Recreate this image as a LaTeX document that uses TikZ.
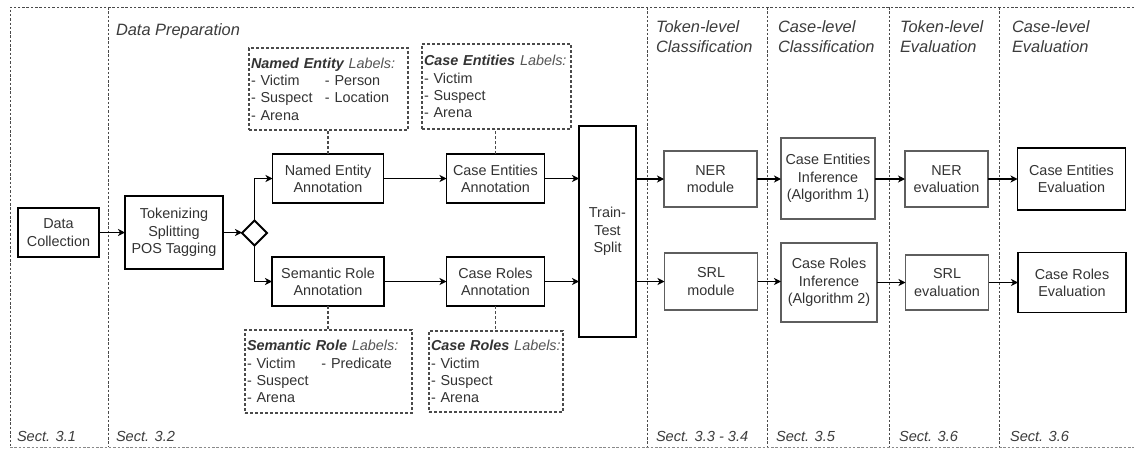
\documentclass[tikz,border=0pt]{standalone}
\usepackage{fontspec}
\setmainfont{Liberation Sans}
\usetikzlibrary{arrows.meta,shapes.geometric}

\definecolor{txt}{HTML}{333333}
\definecolor{hdr}{HTML}{3C3C3C}
\definecolor{lbl}{HTML}{555555}
\definecolor{frm}{HTML}{4A4A4A}
\definecolor{frmlight}{HTML}{8A8A8A}
\definecolor{gbox}{HTML}{5E5E5E}

\newcommand\boxfont{\fontsize{14.4}{17.3}\selectfont}
\newcommand\hdrfont{\fontsize{16.4}{19.5}\selectfont\itshape}
\newcommand\sectfont{\fontsize{14.6}{17.3}\selectfont\itshape}

\begin{document}
\begin{tikzpicture}[x=1pt,y=-1pt,
  every node/.style={inner sep=0pt, outer sep=0pt},
  procbox/.style={draw=black, line width=1.2pt, text=txt, align=center, font=\boxfont},
  greybox/.style={procbox, draw=gbox, line width=1.5pt},
  lblbox/.style={draw=frm, line width=1.2pt, dash pattern=on 3pt off 2pt,
    text=txt, align=left, font=\boxfont, inner xsep=2pt, anchor=north west},
  gate/.style={diamond, draw=black, line width=2pt, minimum width=25pt, minimum height=25pt},
  flow/.style={-{Stealth[length=7pt,width=7pt,inset=2pt]}, line width=1.2pt, black},
  tie/.style={line width=1.2pt, draw=frm, dash pattern=on 3pt off 2pt},
  lane/.style={line width=1pt, draw=frm, dash pattern=on 2.5pt off 1.8pt},
  colhead/.style={text=hdr, font=\hdrfont, align=left},
  secttag/.style={text=hdr, font=\sectfont, anchor=base west}
]
\useasboundingbox (0,0) rectangle (1134,448);
\fill[white] (0,0) rectangle (1134,448);

% outer frame and column separators
\draw[lane] (1134,7) -- (10,7) -- (10,447);
\draw[lane, draw=frmlight] (10,447) -- (1134,447);
\foreach \xx in {108,647,767,889,999}
  \draw[lane] (\xx,7) -- (\xx,447);

% column headings
\node[colhead, anchor=base west] (hprep) at (116,35) {Data Preparation};
\node[colhead, anchor=west] (htokc) at (656,36.4) {Token-level\\Classification};
\node[colhead, anchor=west] (hcasec) at (778,36.4) {Case-level\\Classification};
\node[colhead, anchor=west] (htoke) at (900,36.4) {Token-level\\Evaluation};
\node[colhead, anchor=west] (hcasee) at (1012,36.4) {Case-level\\Evaluation};

% section references
\node[secttag] (s1) at (17,441) {Sect. 3.1};
\node[secttag] (s2) at (116,441) {Sect. 3.2};
\node[secttag] (s3) at (656,441) {Sect. 3.3 - 3.4};
\node[secttag] (s4) at (776,441) {Sect. 3.5};
\node[secttag] (s5) at (899,441) {Sect. 3.6};
\node[secttag] (s6) at (1010,441) {Sect. 3.6};

% process steps
\node[procbox, minimum width=81pt, minimum height=49pt] (dc) at (58.5,232.5) {Data\\Collection};
\node[procbox, minimum width=98pt, minimum height=73pt] (tok) at (174,232.5) {Tokenizing\\Splitting\\POS Tagging};
\node[gate] (gw) at (254.5,233) {};
\node[procbox, minimum width=111pt, minimum height=49pt] (nea) at (328,178.5) {Named Entity\\Annotation};
\node[procbox, minimum width=112pt, minimum height=49pt] (sra) at (328,281.5) {Semantic Role\\Annotation};
\node[procbox, minimum width=98pt, minimum height=49pt] (cea) at (495.5,178.5) {Case Entities\\Annotation};
\node[procbox, minimum width=98pt, minimum height=49pt] (cra) at (495.5,281.5) {Case Roles\\Annotation};
\node[procbox, minimum width=57pt, minimum height=211pt] (tts) at (607.5,231.5) {Train-\\Test\\Split};
\node[greybox, minimum width=93pt, minimum height=56pt] (ner) at (710.5,179) {NER\\module};
\node[greybox, minimum width=93pt, minimum height=57pt] (srl) at (711,281.5) {SRL\\module};
\node[greybox, minimum width=94pt, minimum height=81pt] (cei) at (828,178.5) {Case Entities\\Inference\\(Algorithm 1)};
\node[greybox, minimum width=96pt, minimum height=79pt] (cri) at (829,282.5) {Case Roles\\Inference\\(Algorithm 2)};
\node[greybox, minimum width=83pt, minimum height=56pt] (nerev) at (946.5,179) {NER\\evaluation};
\node[greybox, minimum width=83pt, minimum height=55pt] (srlev) at (947,282.5) {SRL\\evaluation};
\node[procbox, minimum width=108pt, minimum height=62pt] (ceev) at (1071.5,179) {Case Entities\\Evaluation};
\node[procbox, minimum width=108pt, minimum height=60pt] (crev) at (1072,282.5) {Case Roles\\Evaluation};

% label sets
\node[lblbox, minimum width=159pt, minimum height=82pt, text width=155pt] (nel) at (249,48)
  {\textit{\textbf{Named Entity} {\color{lbl}Labels:}}\\
   \makebox[74pt][l]{- Victim}- Person\\
   \makebox[74pt][l]{- Suspect}- Location\\
   - Arena};
\node[lblbox, minimum width=149pt, minimum height=85pt, text width=145pt] (cel) at (422,44)
  {\textit{\textbf{Case Entities} {\color{lbl}Labels:}}\\
   - Victim\\
   - Suspect\\
   - Arena};
\node[lblbox, minimum width=167pt, minimum height=83pt, text width=163pt] (srlab) at (245,330)
  {\textit{\textbf{Semantic Role} {\color{lbl}Labels:}}\\
   \makebox[74.5pt][l]{- Victim}- Predicate\\
   - Suspect\\
   - Arena};
\node[lblbox, minimum width=134pt, minimum height=81pt, text width=130pt] (crl) at (429,331)
  {\textit{\textbf{Case Roles} {\color{lbl}Labels:}}\\
   - Victim\\
   - Suspect\\
   - Arena};

% label sets attached to their annotation steps
\draw[tie] (nea.north) -- (nea.north |- nel.south);
\draw[tie] (cea.north) -- (cea.north |- cel.south);
\draw[tie] (sra.south) -- (sra.south |- srlab.north);
\draw[tie] (cra.south) -- (cra.south |- crl.north);

% flow
\draw[flow] (dc.east) -- (dc.east -| tok.west);
\draw[flow] (tok.east) -- (tok.east -| gw.west);
\draw[flow] (gw.north) |- (nea.west);
\draw[flow] (gw.south) |- (sra.west);
\draw[flow] (nea.east) -- (nea.east -| cea.west);
\draw[flow] (sra.east) -- (sra.east -| cra.west);
\draw[flow] (cea.east) -- (cea.east -| tts.west);
\draw[flow] (cra.east) -- (cra.east -| tts.west);
\draw[flow] (tts.east |- ner.west) -- (ner.west);
\draw[flow] (tts.east |- srl.west) -- (srl.west);
\draw[flow] (ner.east) -- (ner.east -| cei.west);
\draw[flow] (srl.east) -- (srl.east -| cri.west);
\draw[flow] (cei.east |- nerev.west) -- (nerev.west);
\draw[flow] (cri.east |- srlev.west) -- (srlev.west);
\draw[flow] (nerev.east) -- (nerev.east -| ceev.west);
\draw[flow] (srlev.east) -- (srlev.east -| crev.west);
\end{tikzpicture}
\end{document}
